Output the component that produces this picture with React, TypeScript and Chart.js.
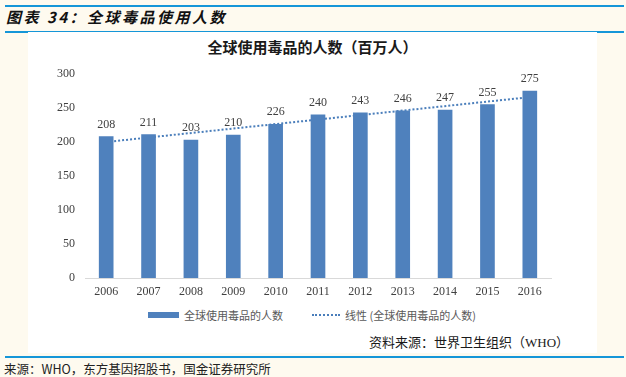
import React, { useEffect, useRef } from "react";
import { Chart, registerables } from "chart.js";

Chart.register(...registerables);

const years = ["2006", "2007", "2008", "2009", "2010", "2011", "2012", "2013", "2014", "2015", "2016"];
const users = [208, 211, 203, 210, 226, 240, 243, 246, 247, 255, 275];
// linear trend line, endpoints
const trend = [200, null, null, null, null, null, null, null, null, null, 266];
const yMin = 0;
const yMax = 300;
const yStep = 50;

const pageTitle = "图表 34：全球毒品使用人数";
const chartTitle = "全球使用毒品的人数（百万人）";
const barLegend = "全球使用毒品的人数";
const lineLegend = "线性 (全球使用毒品的人数)";
const innerSource = "资料来源：世界卫生组织（WHO）";
const pageSource = "来源：WHO，东方基因招股书，国金证券研究所";

const BLUE_RULE = "#1596d8";
const BAR = "#4f81bd";
const TREND = "#4a7ebb";
const CJK = '"Noto Sans CJK SC", "Noto Sans", sans-serif';
const SERIF = '"Liberation Serif", "DejaVu Serif", serif';

const labelPlugin = {
  id: "barLabels",
  afterDatasetsDraw(chart: any) {
    const ctx = chart.ctx;
    const meta = chart.getDatasetMeta(0);
    ctx.save();
    ctx.font = `12px ${SERIF}`;
    ctx.fillStyle = "#404040";
    ctx.textAlign = "center";
    ctx.textBaseline = "bottom";
    meta.data.forEach((bar: any, i: number) => {
      ctx.fillText(String(users[i]), bar.x, bar.y - 6);
    });
    ctx.restore();
  },
};

export default function App() {
  const ref = useRef<HTMLCanvasElement | null>(null);

  useEffect(() => {
    if (!ref.current) return;
    const chart = new Chart(ref.current, {
      type: "bar",
      data: {
        labels: years,
        datasets: [
          {
            type: "bar",
            label: barLegend,
            data: users,
            backgroundColor: BAR,
            barThickness: 14,
            order: 1,
          },
          {
            type: "line",
            label: lineLegend,
            data: trend as any,
            borderColor: TREND,
            borderWidth: 2,
            borderDash: [2, 2],
            pointRadius: 0,
            spanGaps: true,
            fill: false,
            order: 2,
          } as any,
        ],
      },
      options: {
        responsive: false,
        animation: false,
        layout: { padding: { left: 0, right: 46, top: 41, bottom: 0 } },
        plugins: {
          legend: { display: false },
          title: { display: false },
          tooltip: { enabled: false },
        },
        scales: {
          x: {
            grid: { display: false, drawTicks: false },
            border: { display: true, color: "#d9d9d9", width: 1 },
            ticks: { color: "#404040", font: { family: SERIF, size: 12 }, padding: 7 },
            afterFit(scale: any) {
              scale.height = 27;
            },
          },
          y: {
            min: yMin,
            max: yMax,
            grid: { display: false, drawTicks: false },
            border: { display: false },
            ticks: {
              stepSize: yStep,
              color: "#404040",
              font: { family: SERIF, size: 12 },
              padding: 10,
            },
            afterFit(scale: any) {
              scale.width = 57;
            },
          },
        },
      },
      plugins: [labelPlugin],
    });
    return () => chart.destroy();
  }, []);

  const abs = (s: React.CSSProperties): React.CSSProperties => ({ position: "absolute", ...s });

  return (
    <div style={abs({ left: 0, top: 0, width: 626, height: 377, background: "#fefaef", overflow: "hidden" })}>
      <div style={abs({ left: 5, top: 5, width: 619, height: 2, background: BLUE_RULE })} />
      <div
        style={abs({
          left: 6,
          top: 6,
          height: 22,
          lineHeight: "22px",
          fontFamily: CJK,
          fontWeight: 700,
          fontStyle: "italic",
          fontSize: 15,
          letterSpacing: 2.5,
          color: "#111",
          whiteSpace: "nowrap",
        })}
      >
        {pageTitle}
      </div>
      <div style={abs({ left: 5, top: 31, width: 619, height: 2, background: BLUE_RULE })} />
      <div style={abs({ left: 28, top: 32, width: 569, height: 321, background: "#ffffff" })} />
      <div
        style={abs({
          left: 28,
          top: 37,
          width: 569,
          textAlign: "center",
          fontFamily: CJK,
          fontWeight: 700,
          fontSize: 15,
          lineHeight: "20px",
          color: "#1a1a1a",
          whiteSpace: "nowrap",
        })}
      >
        {chartTitle}
      </div>
      <canvas ref={ref} width={569} height={272} style={abs({ left: 28, top: 33, width: 569, height: 272 })} />
      <div style={abs({ left: 148, top: 312, width: 31, height: 6, background: BAR })} />
      <div
        style={abs({ left: 184, top: 307, lineHeight: "16px", fontSize: 11, fontFamily: CJK, color: "#595959", whiteSpace: "nowrap" })}
      >
        {barLegend}
      </div>
      <div style={abs({ left: 312, top: 314, width: 28, height: 0, borderTop: `2px dotted ${TREND}` })} />
      <div
        style={abs({ left: 345, top: 307, lineHeight: "16px", fontSize: 11, fontFamily: CJK, color: "#595959", whiteSpace: "nowrap" })}
      >
        {lineLegend}
      </div>
      <div
        style={abs({ left: 369, top: 334, lineHeight: "18px", fontSize: 13, fontFamily: `${SERIF.split(",")[0]}, ${CJK}`, color: "#1a1a1a", whiteSpace: "nowrap" })}
      >
        {innerSource}
      </div>
      <div style={abs({ left: 5, top: 356, width: 619, height: 2, background: BLUE_RULE })} />
      <div
        style={abs({ left: 4, top: 360, lineHeight: "17px", fontSize: 12.5, fontFamily: CJK, color: "#222", whiteSpace: "nowrap" })}
      >
        {pageSource}
      </div>
    </div>
  );
}
